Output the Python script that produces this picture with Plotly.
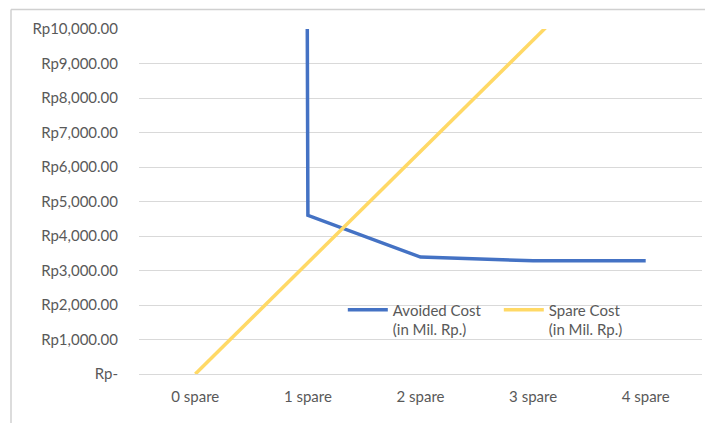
import plotly.graph_objects as go

# categories and series (values in Mil. Rp.)
categories = ["0 spare", "1 spare", "2 spare", "3 spare", "4 spare"]
avoided_cost = [1000000, 4600, 3390, 3280, 3280]
spare_cost = [0, 3226, 6452, 9678, 12904]

# y axis ticks
y_ticks = [0, 1000, 2000, 3000, 4000, 5000, 6000, 7000, 8000, 9000, 10000]
y_labels = ["Rp-", "Rp1,000.00", "Rp2,000.00", "Rp3,000.00", "Rp4,000.00",
            "Rp5,000.00", "Rp6,000.00", "Rp7,000.00", "Rp8,000.00",
            "Rp9,000.00", "Rp10,000.00"]

font = dict(family="Lato, 'Open Sans', sans-serif", size=15, color="#595959")

fig = go.Figure()

fig.add_trace(go.Scatter(
    x=categories, y=avoided_cost, mode="lines",
    name="Avoided Cost<br>(in Mil. Rp.)",
    line=dict(color="#4472C4", width=3.5),
))
fig.add_trace(go.Scatter(
    x=categories, y=spare_cost, mode="lines",
    name="Spare Cost<br>(in Mil. Rp.)",
    line=dict(color="#FFD966", width=3.5),
))

# the page body adds 8px, so margins are shifted to keep the plot in place
fig.update_layout(
    width=713, height=423,
    margin=dict(l=131, r=19, t=21, b=57),
    paper_bgcolor="white", plot_bgcolor="white",
    font=font,
    showlegend=True,
    legend=dict(
        orientation="h", x=0.362, y=0.233, xanchor="left", yanchor="top",
        valign="top", bgcolor="rgba(0,0,0,0)", font=font,
        itemwidth=40, tracegroupgap=0,
        entrywidth=101, entrywidthmode="pixels",
    ),
    xaxis=dict(
        type="category", range=[-0.5, 4.5],
        showgrid=False, showline=True, linecolor="#D9D9D9", linewidth=1,
        ticks="", tickfont=font, zeroline=False, fixedrange=True,
        ticklabelstandoff=9,
    ),
    yaxis=dict(
        range=[0, 10000], tickvals=y_ticks, ticktext=y_labels,
        showgrid=True, gridcolor="#D9D9D9", gridwidth=1,
        showline=False, zeroline=False, ticks="", ticklabelstandoff=20,
        tickfont=font, fixedrange=True,
    ),
    shapes=[
        dict(type="line", xref="paper", yref="paper",
             x0=(11 - 139) / 563, x1=1.03, y0=(374 - 9.5) / 345, y1=(374 - 9.5) / 345,
             line=dict(color="#D0D0D0", width=1.5)),
        dict(type="line", xref="paper", yref="paper",
             x0=(11 - 139) / 563, x1=(11 - 139) / 563, y0=-0.2, y1=(374 - 9.5) / 345,
             line=dict(color="#D0D0D0", width=1.5)),
    ],
)

fig.write_html("out.html")
